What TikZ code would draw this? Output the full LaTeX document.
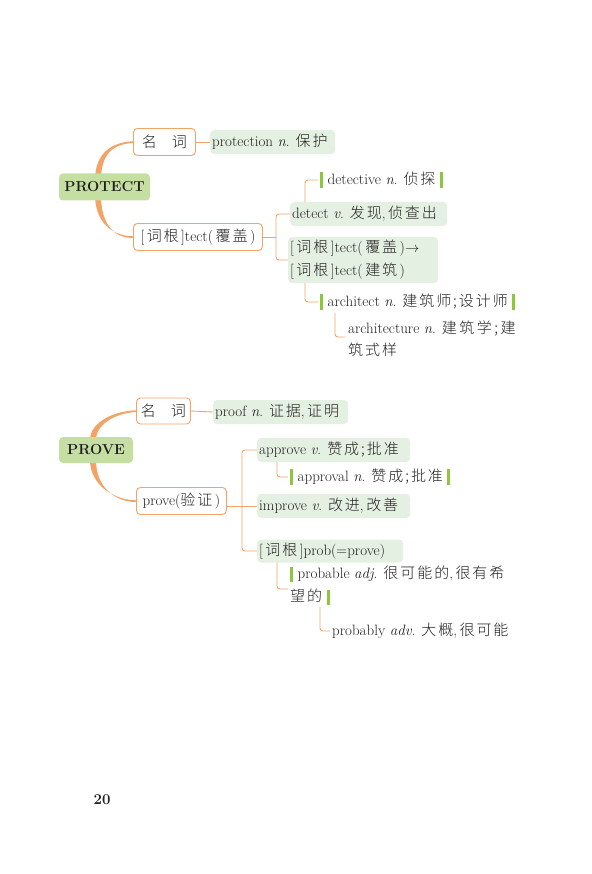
\documentclass[tikz,border=0pt]{standalone}
\usepackage{fontspec}
\newfontfamily\cjk[UprightFont=* Light, Scale=1.0, LetterSpace=13]{Noto Sans CJK SC}
\usetikzlibrary{backgrounds,calc}
\definecolor{lineor}{HTML}{F2A468}
\definecolor{mainG}{HTML}{C5DFA3}
\definecolor{lightG}{HTML}{E4F0E2}
\definecolor{brG}{HTML}{8DC63F}
\definecolor{txt}{HTML}{231F20}
\newcommand\zh[1]{{\cjk #1}}
\newcommand\cg[1]{[\,\zh{#1}\,]}
\newcommand\gw[2]{\makebox[#1pt][l]{#2}}
\newcommand\lb{{\color{brG}\rule[-0.2em]{0.2em}{1.02em}}\hspace{0.3em}}
\newcommand\rb{\hspace{0.3em}{\color{brG}\rule[-0.2em]{0.2em}{1.02em}}}
\begin{document}
\begin{tikzpicture}[x=1pt,y=-1pt,
  font=\fontsize{15}{17}\selectfont, text=txt,
  every node/.style={inner sep=0pt},
  mainbox/.style={fill=mainG, rounded corners=4pt, font=\fontsize{14.5}{17}\selectfont\bfseries},
  obox/.style={draw=lineor, line width=0.9pt, fill=white, rounded corners=4pt, inner xsep=4pt, minimum height=27pt},
  gbox/.style={fill=lightG, rounded corners=4pt, inner xsep=2pt, minimum height=24pt, align=left},
  plain/.style={anchor=west},
  conn/.style={draw=lineor, line width=0.9pt, rounded corners=3pt},
  twoline/.style={align=left, font=\fontsize{15}{23}\selectfont}]
\useasboundingbox (0,0) rectangle (591,874);

% ---------- PROTECT ----------
\node[mainbox, minimum width=91pt, minimum height=27pt] (protect) at (104.5,187) {PROTECT};
\node[obox, anchor=west, minimum width=62pt] (n1) at (133,142) {\zh{名\hspace{1em}词}};
\node[gbox, anchor=west] (p1) at (210,142) {\gw{121}{protection \textit{n}. \zh{保护}}};
\node[obox, anchor=west, minimum width=129pt] (r1) at (133,237) {\cg{词根}tect(\,\zh{覆盖}\,)};
\node[gbox, anchor=west] (d1) at (290,214) {\gw{153}{detect \textit{v}. \zh{发现},\,\zh{侦查出}}};
\node[plain] (d0) at (320,180) {\lb detective \textit{n}. \zh{侦探}\rb};
\node[gbox, anchor=west, twoline, minimum height=46pt] (t2) at (288,260) {\gw{146}{\cg{词根}tect(\,\zh{覆盖}\,)$\rightarrow$}\\ \cg{词根}tect(\,\zh{建筑}\,)};
\node[plain] (a1) at (320,302) {\lb architect \textit{n}. \zh{建筑师;设计师}\rb};
\node[anchor=north west, twoline, font=\fontsize{15}{22}\selectfont] (a2) at (348,321) {architecture \textit{n}. \zh{建\,筑\,学\,;\,建}\\ \zh{筑式样}};

\coordinate (b1) at (276,237);
\coordinate (c1) at (345,337);
\draw[conn] (n1.east) -- (p1.west);
\draw[conn] (r1.east) -- (b1);
\draw[conn] (d1.west) -- ++(-14,0) |- (t2.west);
\draw[conn, shorten >=2pt] ([xshift=15pt]d1.north west) |- (d0.west);
\draw[conn, shorten >=2pt] ([xshift=17pt]t2.south west) |- (a1.west);
\draw[conn] ([xshift=15pt,yshift=-3pt]a1.south west) |- (c1);

% ---------- PROVE ----------
\node[mainbox, minimum width=74pt, minimum height=26pt] (prove) at (96,450) {PROVE};
\node[obox, anchor=west, minimum width=54pt, minimum height=26pt] (n2) at (136,411) {\zh{名\hspace{1em}词}};
\node[gbox, anchor=west] (p2) at (213,412) {\gw{131}{proof \textit{n}. \zh{证据},\,\zh{证明}}};
\node[obox, anchor=west, minimum width=90pt] (r2) at (136,501) {prove(\zh{验证}\,)};
\node[gbox, anchor=west] (ap) at (257,450) {\gw{149}{approve \textit{v}. \zh{赞成;批准}}};
\node[plain] (al) at (290,477) {\lb approval \textit{n}. \zh{赞成;批准}\rb};
\node[gbox, anchor=west] (imp) at (257,506) {\gw{149}{improve \textit{v}. \zh{改进},\,\zh{改善}}};
\node[gbox, anchor=west, minimum height=23pt] (pb) at (257,551) {\gw{142}{\cg{词根}prob(=prove)}};
\node[anchor=north west, twoline] (pa) at (290,566) {\lb probable \textit{adj}. \zh{很可能的},\,\zh{很有希}\\ \zh{望的}\rb};
\node[plain] (pl) at (332,631) {probably \textit{adv}. \zh{大概},\,\zh{很可能}};

\coordinate (b2) at (242,506);
\coordinate (c2) at (288,589);
\draw[conn] (n2.east) -- (p2.west);
\draw[conn] (r2.east |- b2) -- (imp.west);
\draw[conn] (ap.west) -- ++(-15,0) |- (pb.west);
\draw[conn, shorten >=2pt] ([xshift=20pt]ap.south west) |- (al.west);
\draw[conn] ([xshift=20pt]pb.south west) |- (c2);
\draw[conn, shorten >=2pt] ([xshift=30pt,yshift=-2pt]pa.south west) |- (pl.west);

% ---------- tapered curves ----------
\begin{scope}[on background layer]
\fill[lineor] (95,180) .. controls (95,154) and (111,142) .. (133,141.3) -- (133,143) .. controls (113,144) and (101,154) .. (101,180) -- cycle;
\fill[lineor] (95,195) .. controls (95,221) and (111,236) .. (133,236.3) -- (133,238) .. controls (113,238) and (101,223) .. (101,195) -- cycle;
\fill[lineor] (90,440) .. controls (90,422) and (114,411) .. (136,410.3) -- (136,412) .. controls (116,413) and (96,424) .. (96,440) -- cycle;
\fill[lineor] (90,460) .. controls (90,485) and (114,500) .. (136,500.3) -- (136,502) .. controls (116,502) and (96,488) .. (96,460) -- cycle;
\end{scope}

\node[font=\fontsize{15}{18}\selectfont\bfseries] (pg) at (102,800) {20};
\end{tikzpicture}
\end{document}
